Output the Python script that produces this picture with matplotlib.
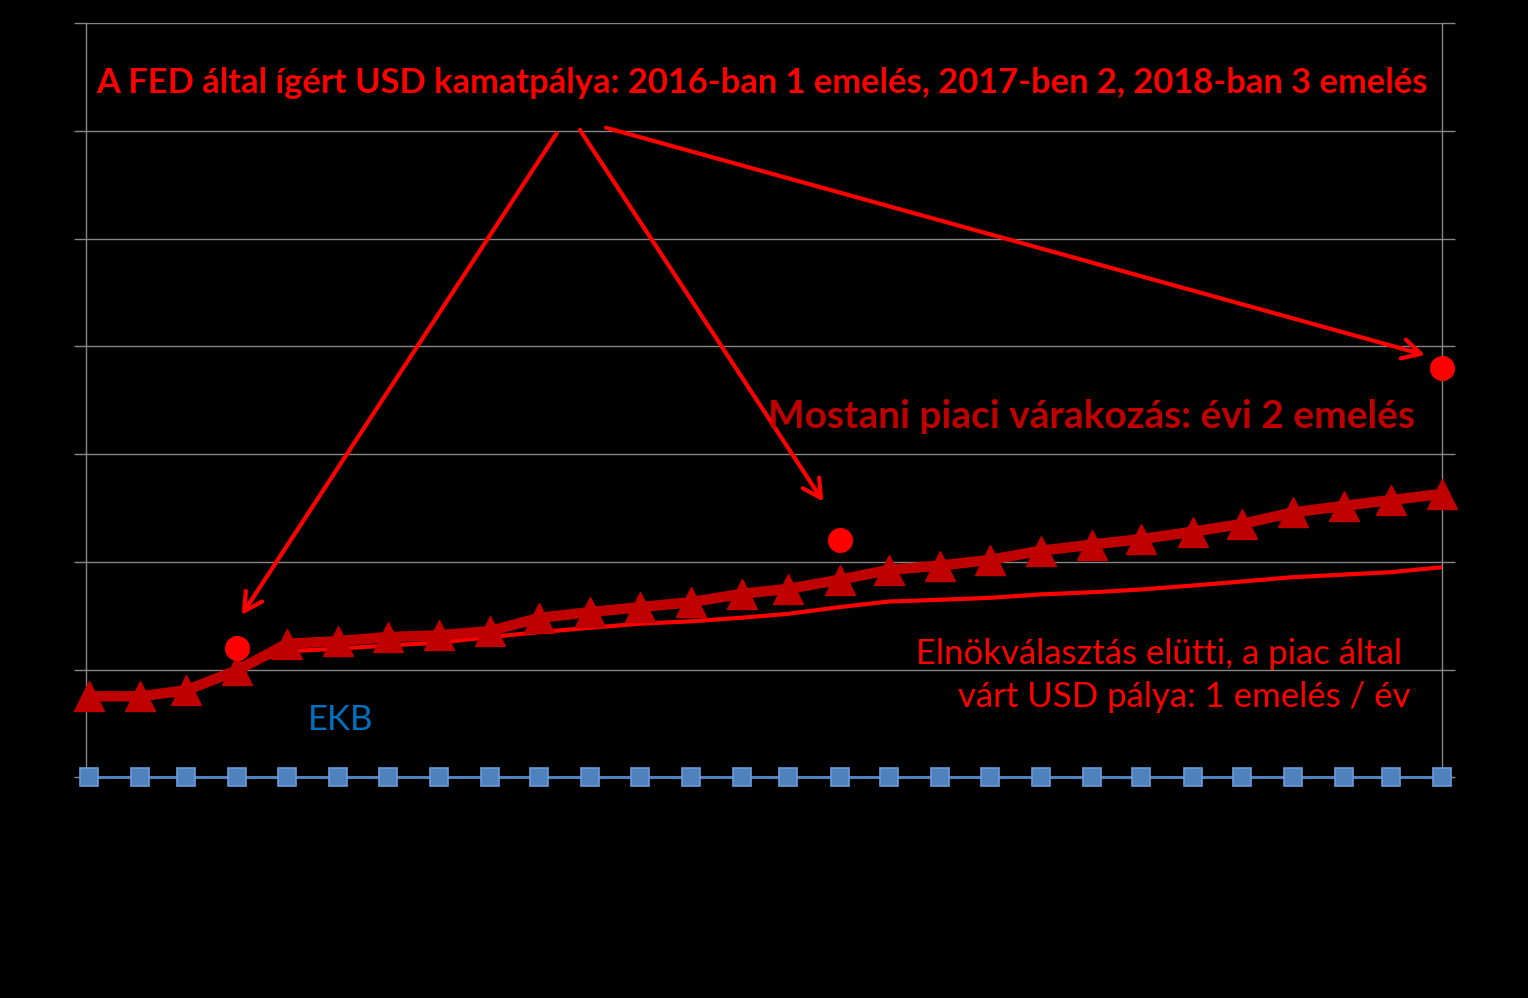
import pandas as pd
import numpy as np
import matplotlib
matplotlib.use("Agg")
import matplotlib.pyplot as plt

# Monthly points (month ends), Dec 2016 - Mar 2019
months = pd.date_range("2016-12-31", "2019-03-31", freq="M")

# ECB rate (EKB)
ekb = [0.0] * 28

# Current market expectation for USD rate (thick line, triangles)
market_now = [0.376, 0.376, 0.404, 0.497, 0.620, 0.632, 0.651, 0.659, 0.679, 0.740,
              0.767, 0.790, 0.813, 0.852, 0.875, 0.917, 0.963, 0.983, 1.009, 1.052,
              1.080, 1.106, 1.140, 1.176, 1.230, 1.260, 1.287, 1.315]

# Pre-election market expectation (thin line)
pre_election = [np.nan, np.nan, 0.407, 0.506, 0.585, 0.597, 0.612, 0.625, 0.651, 0.674,
                0.694, 0.713, 0.724, 0.741, 0.759, 0.790, 0.816, 0.824, 0.833, 0.849,
                0.859, 0.872, 0.890, 0.909, 0.929, 0.941, 0.952, 0.975]

# FED promised path (dots)
fed_idx = [3, 15, 27]
fed_vals = [0.60, 1.10, 1.90]

W, H = 1528, 998
fig = plt.figure(figsize=(W / 100, H / 100), dpi=100)
fig.patch.set_facecolor("black")
ax = fig.add_axes([85.7 / W, 1 - 777.3 / H, (1441.7 - 85.7) / W, (777.3 - 23.3) / H])
ax.set_facecolor("black")

ax.plot(months, pre_election, color="#FF0000", lw=3, zorder=3)
ax.plot(months, market_now, color="#C00000", lw=7.5, marker="^", ms=21,
        markeredgecolor="#C00000", zorder=4, clip_on=False)
ax.plot(months, ekb, color="#4F81BD", lw=2.2, marker="s", ms=13,
        markerfacecolor="#4F81BD", markeredgecolor="#6A9AD8", markeredgewidth=1.2,
        zorder=4, clip_on=False)
ax.plot(months[fed_idx], fed_vals, linestyle="none", marker="o", ms=17,
        color="#FF0000", zorder=5, clip_on=False)

ax.set_xlim(months[0] - pd.Timedelta(days=2), months[-1])
ax.set_ylim(0, 3.5)
ax.set_yticks(np.arange(0, 3.51, 0.5))
ax.set_xticks(months[::2])
ax.set_xticklabels([])
ax.set_yticklabels([])
ax.grid(axis="y", color="#868686", lw=1)
ax.tick_params(axis="y", which="both", left=True, right=True, direction="out",
               length=9, color="#868686", width=1)
ax.tick_params(axis="x", direction="out", length=4, color="#868686", width=1)
for side in ["left", "right", "bottom"]:
    ax.spines[side].set_color("#868686")
    ax.spines[side].set_linewidth(1)
ax.spines["top"].set_visible(False)


def fx(px):
    return px / W


def fy(py):
    return 1 - py / H


# Title-like annotation
fig.text(fx(762), fy(83), "A FED által ígért USD kamatpálya: 2016-ban 1 emelés, 2017-ben 2, 2018-ban 3 emelés",
         color="#FF0000", fontsize=24.8, fontweight="bold", family="Lato", ha="center", va="center")
fig.text(fx(1091), fy(416), "Mostani piaci várakozás: évi 2 emelés",
         color="#C00000", fontsize=28, fontweight="bold", family="Lato", ha="center", va="center")
fig.text(fx(1402), fy(654), "Elnökválasztás elütti, a piac által",
         color="#FF0000", fontsize=25, family="Lato", ha="right", va="center")
fig.text(fx(1410), fy(697), "várt USD pálya: 1 emelés / év",
         color="#FF0000", fontsize=25, family="Lato", ha="right", va="center")
fig.text(fx(341), fy(720), "EKB", color="#0070C0", fontsize=25, family="Lato",
         ha="center", va="center")

# Arrows from the title to the FED dots
arrows = [((556.7, 133.3), (241.7, 615)),
          ((580, 130), (823.3, 501.7)),
          ((606, 127.7), (1425, 355))]
for (x0, y0), (x1, y1) in arrows:
    ax.annotate("", xy=(x1, H - y1), xycoords="figure pixels",
                xytext=(x0, H - y0), textcoords="figure pixels",
                arrowprops=dict(arrowstyle="->,head_length=0.65,head_width=0.35",
                                color="#FF0000", lw=3, shrinkA=0, shrinkB=0,
                                mutation_scale=20),
                zorder=6, annotation_clip=False)

fig.savefig("out.png", dpi=100, facecolor="black")
